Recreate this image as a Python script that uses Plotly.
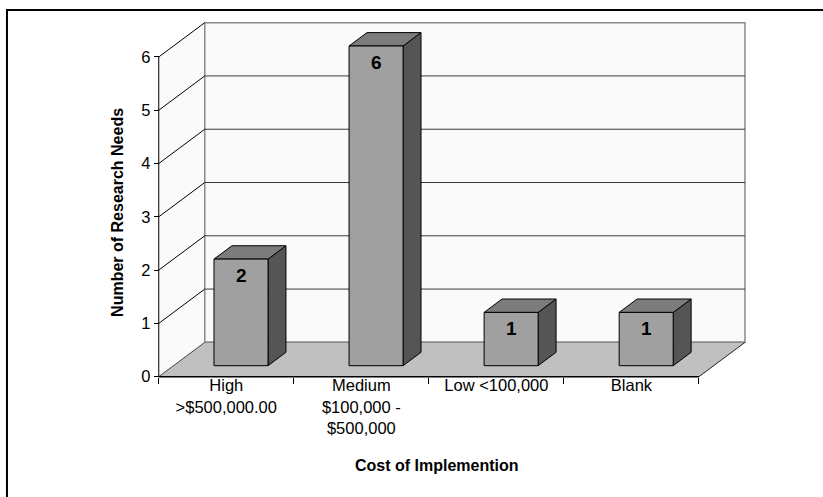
import plotly.graph_objects as go

# ---- data ----
categories = ["High<br>&gt;$500,000.00", "Medium<br>$100,000 -<br>$500,000", "Low &lt;100,000", "Blank"]
values = [2, 6, 1, 1]
y_ticks = [0, 1, 2, 3, 4, 5, 6]
x_title = "Cost of Implemention"
y_title = "Number of Research Needs"

# ---- 3D oblique geometry (data units) ----
DX, DY = 0.3407, 0.644      # full depth offset
D0, D1 = 0.32, 0.71         # bar depth span (fraction of full depth)
BAR_W = 0.4
YMAX = 6
NCAT = len(categories)

X0, X1 = -0.05, 4.40
Y0, Y1 = -0.1, 6.75

FONT = "Arial, Liberation Sans, sans-serif"

fig = go.Figure()

shapes = []
# left wall
shapes.append(dict(type="path", xref="x", yref="y", layer="below",
                   path=f"M 0,0 L {DX},{DY} L {DX},{YMAX+DY} L 0,{YMAX} Z",
                   fillcolor="#FAFAFA", line=dict(width=0)))
# back wall
shapes.append(dict(type="rect", xref="x", yref="y", layer="below",
                   x0=DX, x1=NCAT+DX, y0=DY, y1=YMAX+DY,
                   fillcolor="#FAFAFA", line=dict(color="#8a8a8a", width=1.5)))
# floor
shapes.append(dict(type="path", xref="x", yref="y", layer="below",
                   path=f"M 0,0 L {NCAT},0 L {NCAT+DX},{DY} L {DX},{DY} Z",
                   fillcolor="#C0C0C0", line=dict(width=0)))
# back wall gridlines
for k in y_ticks[1:-1]:
    shapes.append(dict(type="line", xref="x", yref="y", layer="below",
                       x0=DX, x1=NCAT+DX, y0=k+DY, y1=k+DY,
                       line=dict(color="#3a3a3a", width=1)))
# floor back edge
shapes.append(dict(type="line", xref="x", yref="y", layer="below",
                   x0=DX, x1=NCAT+DX, y0=DY, y1=DY, line=dict(color="#8a8a8a", width=1.5)))
# left wall gridlines (diagonals)
for k in y_ticks:
    shapes.append(dict(type="line", xref="x", yref="y", layer="below",
                       x0=0, x1=DX, y0=k, y1=k+DY,
                       line=dict(color="#000000" if k > 0 else "#444444", width=1)))
# floor right edge
shapes.append(dict(type="line", xref="x", yref="y", layer="below",
                   x0=NCAT, x1=NCAT+DX, y0=0, y1=DY, line=dict(color="#222222", width=1)))
# front floor edge (x axis)
shapes.append(dict(type="line", xref="x", yref="y", layer="below",
                   x0=0, x1=NCAT, y0=0, y1=0, line=dict(color="#000000", width=1.5)))
# y axis line
shapes.append(dict(type="line", xref="x", yref="y", layer="below",
                   x0=0, x1=0, y0=0, y1=YMAX, line=dict(color="#000000", width=1)))
# chart border
shapes.append(dict(type="rect", xref="paper", yref="paper", layer="above",
                   x0=-0.2413, x1=1.25, y0=-0.45, y1=1.019,
                   line=dict(color="#000000", width=2)))

annotations = []
ddx = (D1 - D0) * DX
ddy = (D1 - D0) * DY
for i, v in enumerate(values):
    xl = i + 0.5 - BAR_W / 2 + D0 * DX
    xr = xl + BAR_W
    yb = D0 * DY
    yt = yb + v
    faces = [
        ([xr, xr + ddx, xr + ddx, xr, xr], [yb, yb + ddy, yt + ddy, yt, yb], "#555555"),
        ([xl, xr, xr + ddx, xl + ddx, xl], [yt, yt, yt + ddy, yt + ddy, yt], "#7C7C7C"),
        ([xl, xr, xr, xl, xl], [yb, yb, yt, yt, yb], "#A0A0A0"),
    ]
    for fx, fy, col in faces:
        fig.add_trace(go.Scatter(x=fx, y=fy, mode="lines", fill="toself",
                                 fillcolor=col, line=dict(color="#000000", width=1),
                                 hoverinfo="skip", showlegend=False))
    annotations.append(dict(x=(xl + xr) / 2, y=yt, xref="x", yref="y",
                            text=f"<b>{v}</b>", showarrow=False, yanchor="top",
                            yshift=-4, font=dict(family=FONT, size=19, color="#000000")))

annotations.append(dict(x=2.06, y=-0.23, xref="x", yref="paper", text=f"<b>{x_title}</b>",
                        xanchor="center", yanchor="middle",
                        showarrow=False, font=dict(family=FONT, size=16, color="#000000")))
annotations.append(dict(x=-0.0566, y=0.466, xref="paper", yref="paper", text=f"<b>{y_title}</b>",
                        xanchor="center", yanchor="middle",
                        textangle=-90, showarrow=False,
                        font=dict(family=FONT, size=16, color="#000000")))

fig.update_layout(
    width=823, height=497,
    margin=dict(l=152, r=70, t=17, b=115),
    plot_bgcolor="white", paper_bgcolor="white",
    shapes=shapes, annotations=annotations,
    xaxis=dict(range=[X0, X1], anchor="free", position=(0 - Y0) / (Y1 - Y0),
               tickmode="array", tickvals=[i + 0.5 for i in range(NCAT)], ticktext=categories,
               ticks="", showline=False, showgrid=False, zeroline=False,
               ticklabelstandoff=-3,
               tickfont=dict(family=FONT, size=16.5, color="#000000"),
               minor=dict(tickmode="array", tickvals=list(range(NCAT + 1)), ticks="outside",
                          ticklen=6, tickcolor="#000000", tickwidth=1, showgrid=False)),
    yaxis=dict(range=[Y0, Y1], anchor="free", position=(0 - X0) / (X1 - X0),
               tickmode="array", tickvals=y_ticks, ticks="outside", ticklen=5,
               tickcolor="#000000", showline=False, showgrid=False, zeroline=False,
               tickfont=dict(family=FONT, size=16.5, color="#000000")),
)

fig.write_html("out.html")
